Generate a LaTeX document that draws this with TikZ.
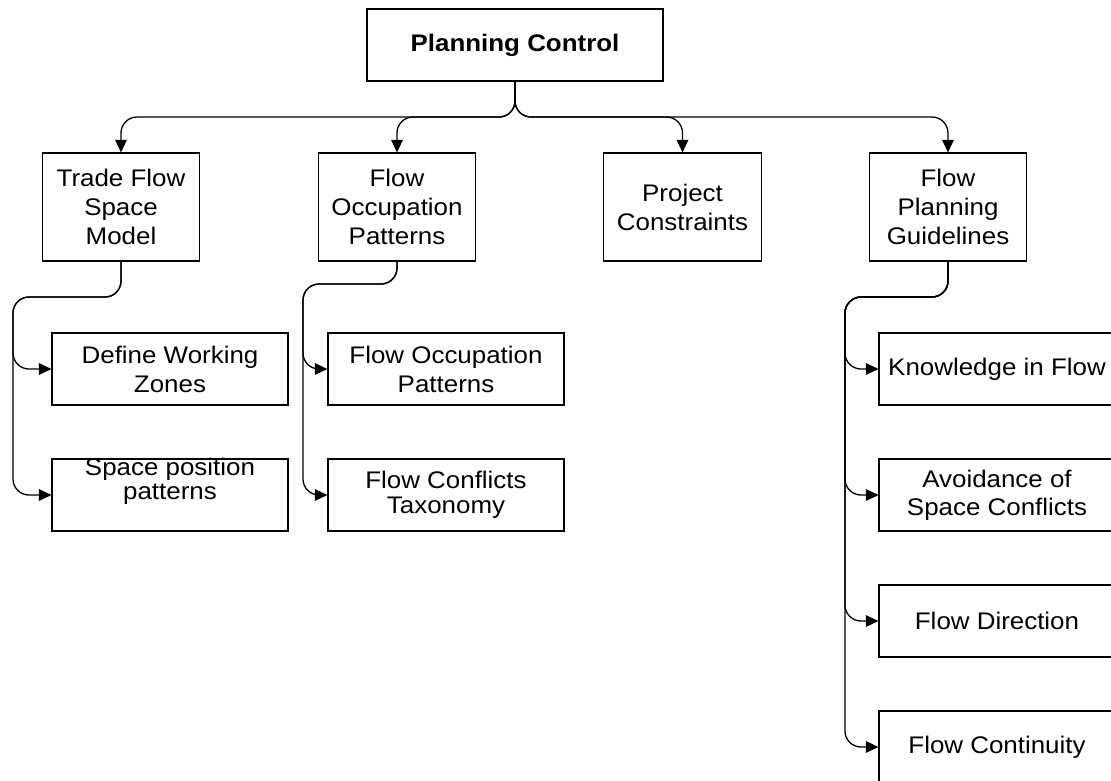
\documentclass[tikz,border=0pt]{standalone}
\usepackage{fontspec}
\setmainfont{Liberation Sans}[FakeStretch=1.08]
\usetikzlibrary{arrows.meta}
\begin{document}
\begin{tikzpicture}[x=1pt,y=-1pt,
  box/.style={draw=black, line width=1.1pt, inner sep=0pt, align=center,
    font=\fontsize{24}{29}\selectfont},
  headbox/.style={box, minimum width=296pt, minimum height=72pt,
    font=\fontsize{24}{29}\selectfont\bfseries},
  topicbox/.style={box, minimum width=157.5pt, minimum height=108pt},
  itembox/.style={box, minimum width=236pt, minimum height=72pt},
  itemtext/.style={inner sep=0pt, align=center},
  link/.style={line width=1.3pt, rounded corners=16pt,
    -{Triangle[length=12.5pt,width=11.5pt]}},
]
\useasboundingbox (0,0) rectangle (1111,780);
\fill[white] (0,0) rectangle (1111,780);
\clip (0,0) rectangle (1111,780);

% root
\node[headbox] (top) at (515,45) {Planning Control};

% first level
\node[topicbox] (trade) at (121,207) {Trade Flow\\Space\\Model};
\node[topicbox] (occ)   at (397,207) {Flow\\Occupation\\Patterns};
\node[topicbox] (proj)  at (682.5,207) {Project\\Constraints};
\node[topicbox] (guide) at (948,207) {Flow\\Planning\\Guidelines};

% second level
\node[itembox] (dwz) at (170,369) {Define Working\\Zones};
\node[itembox, label={[itemtext, yshift=14pt,
    font=\fontsize{24}{24}\selectfont]center:{Space position\\patterns}}]
  (spp) at (170,495) {};
\node[itembox] (fop) at (446,369) {Flow Occupation\\Patterns};
\node[itembox, font=\fontsize{24}{25}\selectfont] (fct) at (446,495)
  {Flow Conflicts\\Taxonomy};
\node[itembox] (kif)   at (997,369) {Knowledge in Flow};
\node[itembox, font=\fontsize{24}{28}\selectfont] (avoid) at (997,495)
  {Avoidance of\\Space Conflicts};
\node[itembox] (dir)   at (997,621) {Flow Direction};
\node[itembox] (cont)  at (997,747) {Flow Continuity};

% bends of the connectors
\coordinate (bus)    at (515,117);
\coordinate (tradeL) at (13,297);
\coordinate (occL)   at (303,284);
\coordinate (guideL) at (845,297);

% root to first level
\draw[link] (top.south) -- (bus) -| (trade.north);
\draw[link] (top.south) -- (bus) -| (occ.north);
\draw[link] (top.south) -- (bus) -| (proj.north);
\draw[link] (top.south) -- (bus) -| (guide.north);

% first level to second level
\draw[link] (trade.south) |- (tradeL) |- (dwz.west);
\draw[link] (trade.south) |- (tradeL) |- (spp.west);
\draw[link] (occ.south) |- (occL) |- (fop.west);
\draw[link] (occ.south) |- (occL) |- (fct.west);
\draw[link] (guide.south) |- (guideL) |- (kif.west);
\draw[link] (guide.south) |- (guideL) |- (avoid.west);
\draw[link] (guide.south) |- (guideL) |- (dir.west);
\draw[link] (guide.south) |- (guideL) |- (cont.west);
\end{tikzpicture}
\end{document}
